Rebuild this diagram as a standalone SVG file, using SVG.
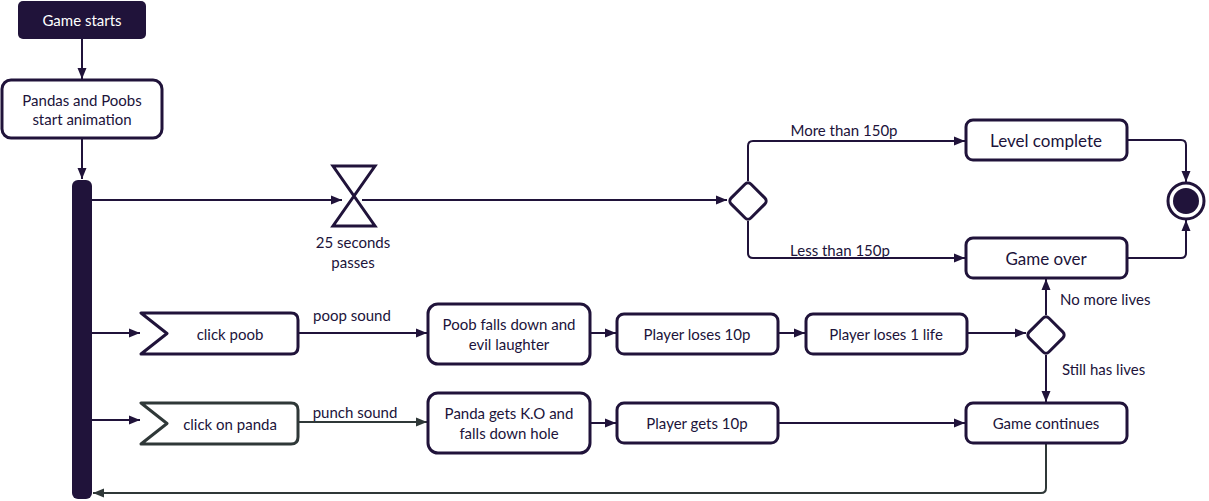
<svg xmlns="http://www.w3.org/2000/svg" width="1209" height="501" viewBox="0 0 1209 501">
<defs>
<marker id="ah" markerUnits="userSpaceOnUse" markerWidth="12" markerHeight="10" refX="11" refY="5" orient="auto">
<path d="M0,0.5 L11,5 L0,9.5 Z" fill="#20133a"/>
</marker>
<marker id="ahg" markerUnits="userSpaceOnUse" markerWidth="12" markerHeight="10" refX="11" refY="5" orient="auto">
<path d="M0,0.5 L11,5 L0,9.5 Z" fill="#2f3838"/>
</marker>
<style>
.box{fill:#fff;stroke:#20133a;stroke-width:3}
.gbox{fill:#fff;stroke:#2f3838;stroke-width:3;stroke-linejoin:round}
.t{font-family:Lato,"Liberation Sans",sans-serif;font-size:15px;fill:#20133a;text-anchor:middle;dominant-baseline:central}
.tl{font-family:Lato,"Liberation Sans",sans-serif;font-size:15px;fill:#20133a;dominant-baseline:central}
.big{font-size:17px}
.c{fill:none;stroke:#20133a;stroke-width:2;marker-end:url(#ah)}
.cg{fill:none;stroke:#2f3838;stroke-width:2;marker-end:url(#ahg)}
</style>
</defs>
<rect width="1209" height="501" fill="#fff"/>
<g id="connectors">
<path class="c" d="M82,39 V79"/>
<path class="c" d="M82,138 V179"/>
<path class="c" d="M92,200 H342"/>
<path class="c" d="M362,200 H727"/>
<path class="c" d="M748,181 V146 Q748,141 753,141 H965"/>
<path class="c" d="M748,221 V253 Q748,258 753,258 H965"/>
<path class="c" d="M1127,140 H1181 Q1186,140 1186,145 V182"/>
<path class="c" d="M1127,258 H1181 Q1186,258 1186,253 V220"/>
<path class="c" d="M92,333 H140"/>
<path class="c" d="M298,333 H427"/>
<path class="c" d="M590,333 H616"/>
<path class="c" d="M779,333 H805"/>
<path class="c" d="M968,333 H1026"/>
<path class="c" d="M1046,315 V279"/>
<path class="c" d="M1046,355 V402"/>
<path class="c" d="M92,420 H140"/>
<path class="cg" d="M298,422 H427"/>
<path class="c" d="M590,423 H616"/>
<path class="c" d="M779,423 H965"/>
<path class="cg" d="M1046,444 V488 Q1046,493 1041,493 H93"/>
<text class="t" x="844" y="130">More than 150p</text>
<text class="t" x="840" y="250">Less than 150p</text>
<text class="t" x="352" y="315">poop sound</text>
<text class="t" x="355" y="412">punch sound</text>
<text class="tl" x="1060" y="299">No more lives</text>
<text class="tl" x="1062" y="369">Still has lives</text>
</g>
<g id="start">
<rect x="18" y="1" width="128" height="38" rx="5" fill="#20133a"/>
<text class="t" x="82" y="20" style="fill:#fff">Game starts</text>
</g>
<g id="pandas-poobs">
<rect class="box" x="2" y="80" width="160" height="58" rx="9"/>
<text class="t" x="82" y="100">Pandas and Poobs</text>
<text class="t" x="82" y="119">start animation</text>
</g>
<g id="fork">
<rect x="72" y="180" width="20" height="319" rx="6" fill="#20133a"/>
</g>
<g id="timer">
<path d="M333,166 H375 L333,226 H375 Z" fill="#fff" stroke="#20133a" stroke-width="3" stroke-linejoin="miter"/>
<text class="t" x="353" y="242">25 seconds</text>
<text class="t" x="353" y="262">passes</text>
</g>
<g id="decision-points">
<rect class="box" x="-14" y="-14" width="28" height="28" rx="4" transform="translate(748,201) rotate(45)"/>
</g>
<g id="level-complete">
<rect class="box" x="966" y="120" width="161" height="40" rx="7"/>
<text class="t big" x="1046" y="140">Level complete</text>
</g>
<g id="game-over">
<rect class="box" x="966" y="238" width="161" height="40" rx="7"/>
<text class="t big" x="1046" y="258">Game over</text>
</g>
<g id="end">
<circle cx="1186" cy="201" r="18" fill="#fff" stroke="#20133a" stroke-width="3"/>
<circle cx="1186" cy="201" r="13" fill="#20133a"/>
</g>
<g id="click-poob">
<path class="box" stroke-linejoin="round" d="M141,313 H291 Q298,313 298,320 V347 Q298,354 291,354 H141 L167,333.5 Z"/>
<text class="t" x="230" y="334">click poob</text>
</g>
<g id="poob-falls">
<rect class="box" x="428" y="304" width="162" height="60" rx="10"/>
<text class="t" x="509" y="324">Poob falls down and</text>
<text class="t" x="509" y="344">evil laughter</text>
</g>
<g id="player-loses-10p">
<rect class="box" x="617" y="314" width="161" height="40" rx="7"/>
<text class="t" x="697" y="334">Player loses 10p</text>
</g>
<g id="player-loses-life">
<rect class="box" x="806" y="314" width="161" height="40" rx="7"/>
<text class="t" x="886" y="334">Player loses 1 life</text>
</g>
<g id="lives-decision">
<rect class="box" x="-14" y="-14" width="28" height="28" rx="4" transform="translate(1046,335) rotate(45)"/>
</g>
<g id="click-panda">
<path class="gbox" d="M141,403 H291 Q298,403 298,410 V437 Q298,444 291,444 H141 L167,423.5 Z"/>
<text class="t" x="230" y="424">click on panda</text>
</g>
<g id="panda-ko">
<rect class="box" x="428" y="393" width="162" height="60" rx="10"/>
<text class="t" x="509" y="413">Panda gets K.O and</text>
<text class="t" x="509" y="433">falls down hole</text>
</g>
<g id="player-gets-10p">
<rect class="box" x="617" y="403" width="161" height="40" rx="7"/>
<text class="t" x="697" y="423">Player gets 10p</text>
</g>
<g id="game-continues">
<rect class="box" x="966" y="403" width="161" height="40" rx="7"/>
<text class="t" x="1046" y="423">Game continues</text>
</g>
</svg>
